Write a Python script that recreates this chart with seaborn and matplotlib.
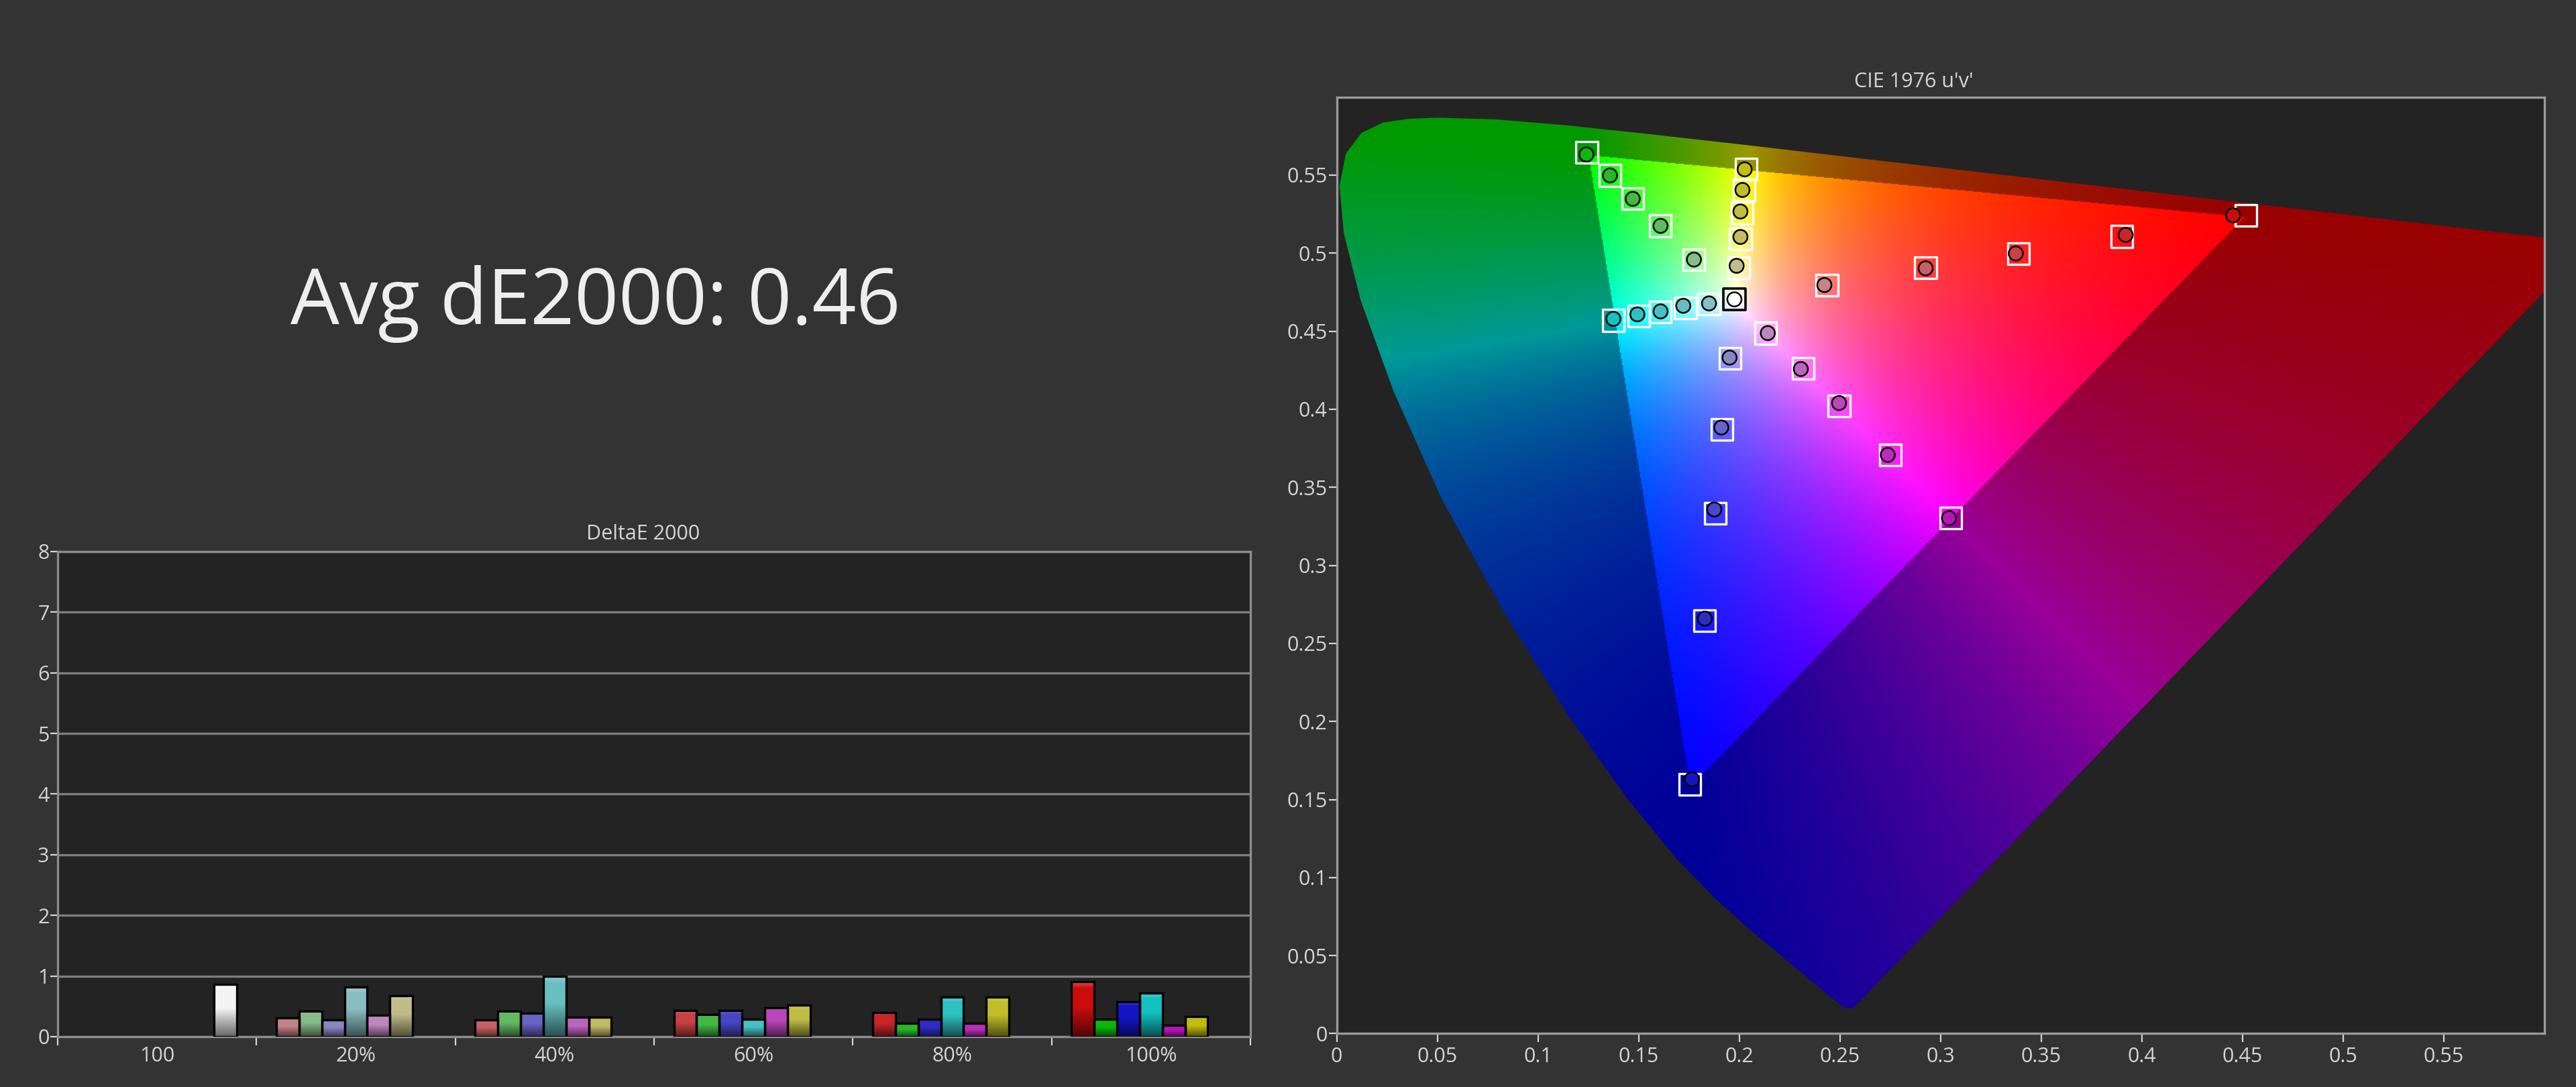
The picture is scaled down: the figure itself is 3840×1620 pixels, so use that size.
import numpy as np
import pandas as pd
import matplotlib.pyplot as plt
from matplotlib.patches import Polygon
import seaborn as sns

sns.set_style("dark", {"axes.facecolor": "#232323", "figure.facecolor": "#333333",
                       "axes.edgecolor": "#8c8c8c", "grid.color": "#7d7d7d"})
plt.rcParams["font.family"] = ["Open Sans", "DejaVu Sans"]
TXT = "#d4d4d4"

# ---- DeltaE 2000 bars ----
levels = ["100", "20%", "40%", "60%", "80%", "100%"]
sat_levels = ["20%", "40%", "60%", "80%", "100%"]
hue_names = ["Red", "Green", "Blue", "Cyan", "Magenta", "Yellow", "White"]
de_white = [0.86]
de_red = [0.31, 0.28, 0.43, 0.40, 0.91]
de_green = [0.42, 0.42, 0.36, 0.22, 0.29]
de_blue = [0.28, 0.39, 0.43, 0.29, 0.58]
de_cyan = [0.82, 1.00, 0.29, 0.65, 0.72]
de_magenta = [0.35, 0.32, 0.48, 0.22, 0.19]
de_yellow = [0.68, 0.32, 0.52, 0.65, 0.33]
avg_de = 0.46

# ---- CIE 1976 u'v' ----
# spectral locus 380..700 nm
locus_u = [0.2568, 0.2557, 0.2522, 0.2461, 0.2347, 0.2161, 0.2033, 0.1877, 0.1690,
           0.1441, 0.1147, 0.0828, 0.0521, 0.0282, 0.0119, 0.0035, 0.0014, 0.0046,
           0.0123, 0.0231, 0.0360, 0.0501, 0.0792, 0.1127, 0.1531, 0.2026, 0.2623,
           0.3315, 0.4035, 0.4692, 0.5203, 0.5565, 0.5830, 0.6005, 0.6109, 0.6234]
locus_v = [0.0166, 0.0159, 0.0169, 0.0226, 0.0350, 0.0550, 0.0688, 0.0871, 0.1119,
           0.1510, 0.2044, 0.2708, 0.3427, 0.4117, 0.4699, 0.5131, 0.5432, 0.5638,
           0.5770, 0.5837, 0.5861, 0.5868, 0.5857, 0.5821, 0.5766, 0.5694, 0.5604,
           0.5501, 0.5393, 0.5296, 0.5219, 0.5165, 0.5125, 0.5099, 0.5084, 0.5065]

# targets / measured, 20% .. 100%
red_tu = [0.2436, 0.2926, 0.3388, 0.3900, 0.4518]
red_tv = [0.4796, 0.4906, 0.4998, 0.5107, 0.5242]
red_mu = [0.2423, 0.2926, 0.3374, 0.3920, 0.4454]
red_mv = [0.4796, 0.4903, 0.4998, 0.5117, 0.5242]
green_tu = [0.1775, 0.1609, 0.1471, 0.1358, 0.1243]
green_tv = [0.4959, 0.5175, 0.5348, 0.5498, 0.5646]
green_mu = [0.1775, 0.1609, 0.1471, 0.1358, 0.1241]
green_mv = [0.4959, 0.5175, 0.5348, 0.5498, 0.5632]
blue_tu = [0.1955, 0.1914, 0.1882, 0.1829, 0.1754]
blue_tv = [0.4325, 0.3871, 0.3333, 0.2646, 0.1597]
blue_mu = [0.1952, 0.1911, 0.1876, 0.1829, 0.1765]
blue_mv = [0.4331, 0.3883, 0.3358, 0.2659, 0.1630]
cyan_tu = [0.1850, 0.1733, 0.1609, 0.1501, 0.1375]
cyan_tv = [0.4675, 0.4650, 0.4623, 0.4598, 0.4569]
cyan_mu = [0.1850, 0.1722, 0.1609, 0.1494, 0.1375]
cyan_mv = [0.4678, 0.4663, 0.4627, 0.4608, 0.4579]
magenta_tu = [0.2131, 0.2319, 0.2496, 0.2750, 0.3051]
magenta_tv = [0.4488, 0.4261, 0.4021, 0.3708, 0.3303]
magenta_mu = [0.2142, 0.2306, 0.2496, 0.2738, 0.3042]
magenta_mv = [0.4488, 0.4258, 0.4040, 0.3708, 0.3303]
yellow_tu = [0.1997, 0.2006, 0.2014, 0.2025, 0.2035]
yellow_tv = [0.4906, 0.5092, 0.5257, 0.5405, 0.5540]
yellow_mu = [0.1987, 0.2006, 0.2006, 0.2016, 0.2027]
yellow_mv = [0.4919, 0.5104, 0.5267, 0.5405, 0.5537]
white_tu, white_tv = [0.1976], [0.4704]
white_mu, white_mv = [0.1976], [0.4704]

base_rgb = {"Red": (0.80, 0.05, 0.05), "Green": (0.05, 0.72, 0.05),
            "Blue": (0.08, 0.08, 0.78), "Cyan": (0.08, 0.76, 0.76),
            "Magenta": (0.72, 0.08, 0.72), "Yellow": (0.76, 0.74, 0.06),
            "White": (0.96, 0.96, 0.96)}
neutral = np.array([0.76, 0.74, 0.76])


def patch_color(hue, level):
    s = 1.0 if level in ("100", "100%") else float(level[:-1]) / 100
    s = s ** 0.7
    return tuple(neutral * (1 - s) + np.array(base_rgb[hue]) * s)


fig = plt.figure(figsize=(38.4, 16.2), dpi=100)

# ---------------- bar chart ----------------
rows = [("100", "White", de_white[0])]
for hue, vals in zip(hue_names[:6], [de_red, de_green, de_blue, de_cyan, de_magenta, de_yellow]):
    for lvl, v in zip(sat_levels, vals):
        rows.append((lvl, hue, v))
df = pd.DataFrame(rows, columns=["level", "color", "dE"])

ax1 = fig.add_axes([0.0224, 0.0463, 0.4630, 0.4463])
sns.barplot(data=df, x="level", y="dE", hue="color", order=levels, hue_order=hue_names,
            palette=base_rgb, saturation=1, errorbar=None, width=0.8, legend=False,
            edgecolor="black", linewidth=2.4, ax=ax1)

slot = 0.8 / len(hue_names)
for bar in ax1.patches:
    h = bar.get_height()
    if not np.isfinite(h) or h <= 0:
        continue
    x0, w = bar.get_x(), bar.get_width()
    c = x0 + w / 2
    cat = int(round(c))
    k = int(round((c - cat + 0.4) / slot - 0.5))
    col = np.array(patch_color(hue_names[k], levels[cat]))
    t = np.linspace(0, 1, 80)[:, None]
    dark, light = col * 0.42, col + (1 - col) * 0.3
    grad = np.where(t < 0.55, dark + (col - dark) * (t / 0.55),
                    np.where(t < 0.88, col, col + (light - col) * ((t - 0.88) / 0.12)))
    bar.set_facecolor("none")
    bar.set_zorder(3)
    im = ax1.imshow(grad[:, None, :], extent=[x0, x0 + w, 0, h], origin="lower",
                    aspect="auto", interpolation="bilinear", zorder=2)
    im.set_clip_path(bar)

ax1.set_xlim(-0.5, 5.5)
ax1.set_ylim(0, 8)
ax1.set_yticks(range(9))
ax1.set_xticks(range(6))
ax1.set_xticks(np.arange(-0.5, 6, 1), minor=True)
ax1.set_xticklabels(levels)
ax1.set_xlabel("")
ax1.set_ylabel("")
ax1.set_axisbelow(True)
ax1.yaxis.grid(True, color="#7d7d7d", lw=2.4)
ax1.tick_params(axis="x", which="major", length=0, pad=10, labelsize=22, labelcolor=TXT)
ax1.tick_params(axis="x", which="minor", bottom=True, length=9, width=1.6, color=TXT)
ax1.tick_params(axis="y", left=True, length=8, width=1.6, color=TXT, pad=1,
                labelsize=22, labelcolor=TXT)
for sp in ax1.spines.values():
    sp.set_visible(True)
    sp.set_color("#8c8c8c")
    sp.set_linewidth(2.4)

fig.text(959 / 3840, 1 - 796 / 1620, "DeltaE 2000", ha="center", va="center",
         fontsize=22, color=TXT)
fig.text(888 / 3840, 1 - 483 / 1620, f"Avg dE2000: {avg_de:.2f}", ha="center",
         va="baseline", fontsize=83, color="#eeeeee")

# ---------------- CIE u'v' ----------------
ax2 = fig.add_axes([0.5189, 0.0491, 0.4688, 0.8616])

n = 1200
g = (np.arange(n) + 0.5) / n * 0.6
U, V = np.meshgrid(g, g)
d = 6 * U - 16 * V + 12
cx, cy = 9 * U / d, 4 * V / d
XYZ = np.stack([cx / cy, np.ones_like(cx), (1 - cx - cy) / cy], -1)
M = np.array([[3.2406, -1.5372, -0.4986],
              [-0.9689, 1.8758, 0.0415],
              [0.0557, -0.2040, 1.0570]])
rgb = XYZ @ M.T
inside = (rgb >= 0).all(-1)
rgb = np.clip(rgb, 0, None)
rgb = rgb / rgb.max(-1, keepdims=True)
rgb[~inside] *= 0.6
img = ax2.imshow(np.clip(rgb, 0, 1), extent=[0, 0.6, 0, 0.6], origin="lower",
                 aspect="auto", interpolation="bilinear", zorder=1)
locus = Polygon(np.column_stack([locus_u, locus_v]), closed=True, fc="none", ec="none")
ax2.add_patch(locus)
img.set_clip_path(locus)

pts = []
for hue, tu, tv, mu, mv in [("Red", red_tu, red_tv, red_mu, red_mv),
                            ("Green", green_tu, green_tv, green_mu, green_mv),
                            ("Blue", blue_tu, blue_tv, blue_mu, blue_mv),
                            ("Cyan", cyan_tu, cyan_tv, cyan_mu, cyan_mv),
                            ("Magenta", magenta_tu, magenta_tv, magenta_mu, magenta_mv),
                            ("Yellow", yellow_tu, yellow_tv, yellow_mu, yellow_mv)]:
    for lvl, a, b, c, e in zip(sat_levels, tu, tv, mu, mv):
        pts.append((f"{hue} {lvl}", hue, lvl, a, b, c, e))
pts.append(("White", "White", "100", white_tu[0], white_tv[0], white_mu[0], white_mv[0]))
cie = pd.DataFrame(pts, columns=["name", "hue", "level", "tu", "tv", "mu", "mv"])
pal = {r.name: patch_color(r.hue, r.level) for r in cie.itertuples()}
pal["White"] = (1.0, 1.0, 1.0)

colored = cie[cie.hue != "White"]
sns.scatterplot(data=colored, x="tu", y="tv", marker="s", s=540, facecolor="none",
                edgecolor="white", linewidth=2.4, zorder=4, ax=ax2)
sns.scatterplot(data=cie[cie.hue == "White"], x="tu", y="tv", marker="s", s=540,
                facecolor="none", edgecolor="black", linewidth=2.6, zorder=4, ax=ax2)
sns.scatterplot(data=cie, x="mu", y="mv", hue="name", palette=pal, marker="o", s=230,
                edgecolor="black", linewidth=1.8, legend=False, zorder=5, ax=ax2)

ticks = np.arange(0, 0.56, 0.05)
ax2.set_xlim(0, 0.6)
ax2.set_ylim(0, 0.6)
ax2.set_xticks(ticks)
ax2.set_yticks(ticks)
ax2.set_xticklabels([f"{t:g}" for t in np.round(ticks, 2)])
ax2.set_yticklabels([f"{t:g}" for t in np.round(ticks, 2)])
ax2.set_xlabel("")
ax2.set_ylabel("")
ax2.grid(False)
ax2.tick_params(axis="both", bottom=True, left=True, length=9, width=1.6, color=TXT,
                labelsize=22, labelcolor=TXT)
ax2.tick_params(axis="x", pad=5)
ax2.tick_params(axis="y", pad=1)
for sp in ax2.spines.values():
    sp.set_visible(True)
    sp.set_color("#9a9a9a")
    sp.set_linewidth(2.4)

fig.text(2853 / 3840, 1 - 122 / 1620, "CIE 1976 u'v'", ha="center", va="center",
         fontsize=22, color=TXT)

fig.savefig("out.png", dpi=100, facecolor=fig.get_facecolor())
